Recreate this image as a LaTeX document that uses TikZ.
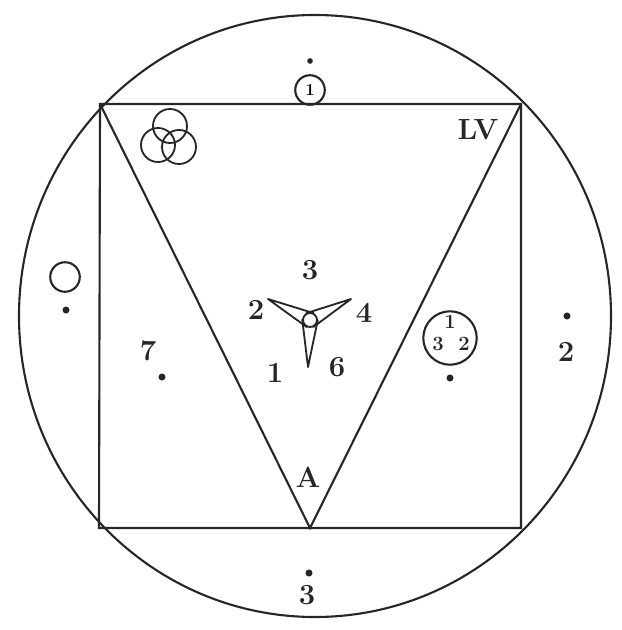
\documentclass[tikz,border=0pt]{standalone}
\usepackage{tikz}
\usetikzlibrary{calc,positioning}

\begin{document}
\begin{tikzpicture}[x=0.025cm,y=-0.025cm,
  ink/.style={draw=black!85,line width=1.5pt},
  digit/.style={font=\huge\bfseries,text=black!85,inner sep=0pt},
  smalldigit/.style={font=\Large\bfseries,text=black!85,inner sep=0pt},
  spot/.style={circle,fill=black!85,inner sep=0pt,minimum size=5pt}
]
  \useasboundingbox (0,0) rectangle (621,630);

  % outer circle
  \draw[ink] (315,316) ellipse [x radius=296,y radius=301];

  % square and triangle
  \coordinate (tl) at (100,104);
  \coordinate (tr) at (521,104);
  \coordinate (br) at (521,528);
  \coordinate (bl) at (99,528);
  \coordinate (apex) at (310,528);
  \draw[ink] (tl) -- (tr) -- (br) -- (bl) -- cycle;
  \draw[ink] (tl) -- (apex) -- (tr);

  % top marker
  \node[ink,circle,minimum size=21pt,inner sep=0pt,font=\large\bfseries] (top) at (310,90) {1};
  \node[spot,minimum size=4pt] (topdot) at (310,61) {};

  % three rings
  \draw[ink,line width=1.3pt] (170,126) circle [radius=17];
  \draw[ink,line width=1.3pt] (158,145) circle [radius=17];
  \draw[ink,line width=1.3pt] (179,147) circle [radius=17];

  % left ring
  \node[ink,circle,minimum size=21pt,inner sep=0pt] (lring) at (65,277) {};
  \node[spot] (ldot) at (66,310) {};

  % right marks
  \node[spot] (rdot) at (567,316) {};
  \node[digit] (r2) at (566,352) {2};

  % bottom marks
  \node[spot] (bdot) at (309,573) {};
  \node[digit] (b3) at (307,595) {3};

  % seven
  \node[digit] (s7) at (148,351) {7};
  \node[spot] (sdot) at (162,377) {};

  % letters
  \node[font=\huge\bfseries,text=black!85] (lv) at (478,130) {LV};
  \node[font=\huge\bfseries,text=black!85] (aa) at (308,477) {A};

  % propeller
  \coordinate (hub) at (310,320);
  \coordinate (t1) at (268,299);
  \coordinate (t2) at (351,299);
  \coordinate (t3) at (308,367);
  \foreach \t in {t1,t2,t3}
    \draw[ink,line width=1.3pt,line join=round] (\t) -- ($(hub)!5.5pt!90:(\t)$) -- ($(hub)!5.5pt!-90:(\t)$) -- cycle;
  \draw[ink,line width=1.3pt,fill=white] (hub) circle [radius=7];

  % propeller numbers
  \node[digit] (p3) at (310,270) {3};
  \node[digit] (p2) at (256,310) {2};
  \node[digit] (p4) at (364,313) {4};
  \node[digit] (p1) at (275,373) {1};
  \node[digit] (p6) at (337,367) {6};

  % right ring with numbers
  \node[ink,circle,minimum size=38pt,inner sep=0pt] (rring) at (450,338) {};
  \node[smalldigit] (q1) at (450,322) {1};
  \node[smalldigit] (q3) at (438,344) {3};
  \node[smalldigit] (q2) at (464,344) {2};
  \node[spot] (qdot) at (450,378) {};
\end{tikzpicture}
\end{document}
